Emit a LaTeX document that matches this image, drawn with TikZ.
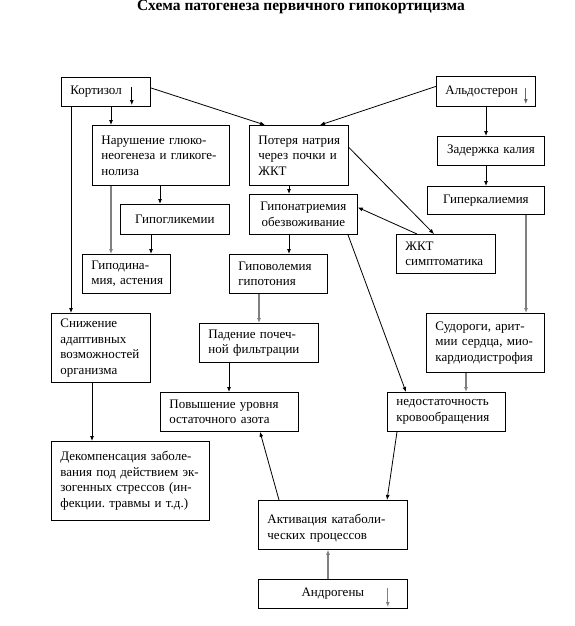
\documentclass[tikz,border=0pt]{standalone}
\usepackage{fontspec}
\setmainfont{Liberation Serif}
\usetikzlibrary{arrows.meta,positioning}

\begin{document}
\begin{tikzpicture}[
  x=1pt, y=-1pt,
  box/.style={draw, line width=0.8pt, anchor=north west, inner xsep=9pt,
              inner ysep=2pt, align=left,
              font=\fontsize{13}{15.5}\selectfont},
  mid/.style={align=center},
  arr/.style={-{Latex[length=5pt,width=4pt]}, line width=0.8pt},
  grey/.style={-{Latex[length=5pt,width=4pt]}, line width=1.1pt, black!50},
  every node/.style={inner sep=0pt}]
\useasboundingbox (0,0) rectangle (574,626);

% ---- title -------------------------------------------------------------
\node[font=\fontsize{15.5}{17}\bfseries\selectfont, anchor=base] (title) at (301,11)
  {Схема патогенеза первичного гипокортицизма};

% ---- the hormones ------------------------------------------------------
\node[box, text width=71pt, minimum height=29pt] (kort) at (61,77) {Кортизол};
\node[box, text width=81pt, minimum height=30pt] (aldo) at (436,76) {Альдостерон};
\node[box, mid, text width=131pt, minimum height=29pt] (androg) at (258,579) {Андрогены};

% ---- left branch -------------------------------------------------------
\node[box, text width=119pt, minimum height=60pt] (narush) at (92,125)
  {Нарушение~глюко-\\неогенеза~и~гликоге-\\нолиза};
\node[box, mid, text width=91pt, minimum height=30pt] (gipogl) at (120,204) {Гипогликемии};
\node[box, text width=70pt, minimum height=39pt] (gipodin) at (82,254)
  {Гиподина-\\мия,~астения};
\node[box, text width=81pt, minimum height=69pt] (snizh) at (51,313)
  {Снижение\\адаптивных\\возможностей\\организма};
\node[box, text width=140pt, minimum height=79pt] (dekomp) at (51,441)
  {Декомпенсация~заболе-\\вания~под~действием~эк-\\зогенных~стрессов~(ин-\\фекции.~травмы~и~т.д.)};

% ---- middle branch -----------------------------------------------------
\node[box, text width=81pt, minimum height=60pt] (poter) at (249,125)
  {Потеря~натрия\\через~почки~и\\ЖКТ};
\node[box, mid, text width=90pt, minimum height=40pt] (giponat) at (249,194)
  {Гипонатриемия\\обезвоживание};
\node[box, text width=80pt, minimum height=39pt] (gipovol) at (229,254)
  {Гиповолемия\\гипотония};
\node[box, text width=101pt, minimum height=39pt] (paden) at (199,323)
  {Падение~почеч-\\ной~фильтрации};
\node[box, text width=120pt, minimum height=39pt] (povysh) at (160,392)
  {Повышение~уровня\\остаточного~азота};
\node[box, text width=131pt, minimum height=49pt, text depth=12pt] (aktiv) at (258,500)
  {Активация~катаболи-\\ческих~процессов};

% ---- right branch ------------------------------------------------------
\node[box, mid, text width=89pt, minimum height=29pt] (zader) at (437,136) {Задержка~калия};
\node[box, mid, text width=99pt, minimum height=28pt] (giperkal) at (427,186) {Гиперкалиемия};
\node[box, text width=81pt, minimum height=39pt] (zhkt) at (396,234)
  {ЖКТ\\симптоматика};
\node[box, text width=100pt, minimum height=59pt] (sudor) at (426,313)
  {Судороги,~арит-\\мии~сердца,~мио-\\кардиодистрофия};
\node[box, text width=100pt, minimum height=39pt] (nedost) at (387,392)
  {недостаточность\\кровообращения};

% ---- the small "decreased" arrows inside the hormone boxes -------------
\coordinate (kortA) at ([xshift=-19pt,yshift=-10pt]kort.north east);
\coordinate (kortB) at ([xshift=-19pt,yshift=-28pt]kort.north east);
\coordinate (aldoA) at ([xshift=-10pt,yshift=-12pt]aldo.north east);
\coordinate (aldoB) at ([xshift=-10pt,yshift=-28pt]aldo.north east);
\coordinate (androgA) at ([xshift=-20pt,yshift=-9pt]androg.north east);
\coordinate (androgB) at ([xshift=-20pt,yshift=-28pt]androg.north east);
\draw[arr] (kortA) -- (kortB);
\draw[arr, black!60] (aldoA) -- (aldoB);
\draw[grey, line width=0.9pt] (androgA) -- (androgB);

% ---- connectors --------------------------------------------------------
\draw[arr] ([xshift=10pt]kort.south west) -- ([xshift=20pt]snizh.north west);
\draw[arr] ([xshift=50pt]kort.south west) -- ([xshift=19pt]narush.north west);
\draw[arr] ([yshift=4pt]kort.east) -- ([xshift=16pt]poter.north west);
\draw[arr] ([yshift=5pt]aldo.west) -- ([xshift=71pt]poter.north west);
\draw[arr] ([xshift=50pt]aldo.south west) -- ([xshift=49pt]zader.north west);
\draw[arr] ([xshift=49pt]zader.south west) -- ([xshift=59pt]giperkal.north west);
\draw[grey] ([xshift=99pt]giperkal.south west) -- ([xshift=100pt]sudor.north west);
\draw[arr] ([xshift=68pt]narush.south west) -- ([xshift=40pt]gipogl.north west);
\draw[grey] ([xshift=19pt]narush.south west) -- ([xshift=29pt]gipodin.north west);
\draw[arr] ([xshift=31pt]gipogl.south west) -- ([xshift=69pt]gipodin.north west);
\draw[arr] ([xshift=40pt]poter.south west) -- ([xshift=40pt]giponat.north west);
\draw[arr] ([xshift=40pt]giponat.south west) -- ([xshift=60pt]gipovol.north west);
\draw[arr] ([yshift=8pt]poter.east) -- ([xshift=38pt]zhkt.north west);
\draw[arr] ([xshift=21pt]zhkt.north west) -- ([yshift=7pt]giponat.east);
\draw[arr] ([xshift=99pt]giponat.south west) -- ([xshift=19pt]nedost.north west);
\draw[grey] ([xshift=30pt]gipovol.south west) -- ([xshift=60pt]paden.north west);
\draw[arr] ([xshift=30pt]paden.south west) -- ([xshift=69pt]povysh.north west);
\draw[arr] ([xshift=41pt]snizh.south west) -- ([xshift=41pt]dekomp.north west);
\draw[grey] ([xshift=40pt]sudor.south west) -- ([xshift=79pt]nedost.north west);
\draw[arr] ([xshift=10pt]nedost.south west) -- ([xshift=129pt]aktiv.north west);
\draw[arr] ([xshift=21pt]aktiv.north west) -- ([xshift=100pt]povysh.south west);
\draw[grey] ([xshift=70pt]androg.north west) -- ([xshift=70pt]aktiv.south west);
\end{tikzpicture}
\end{document}
